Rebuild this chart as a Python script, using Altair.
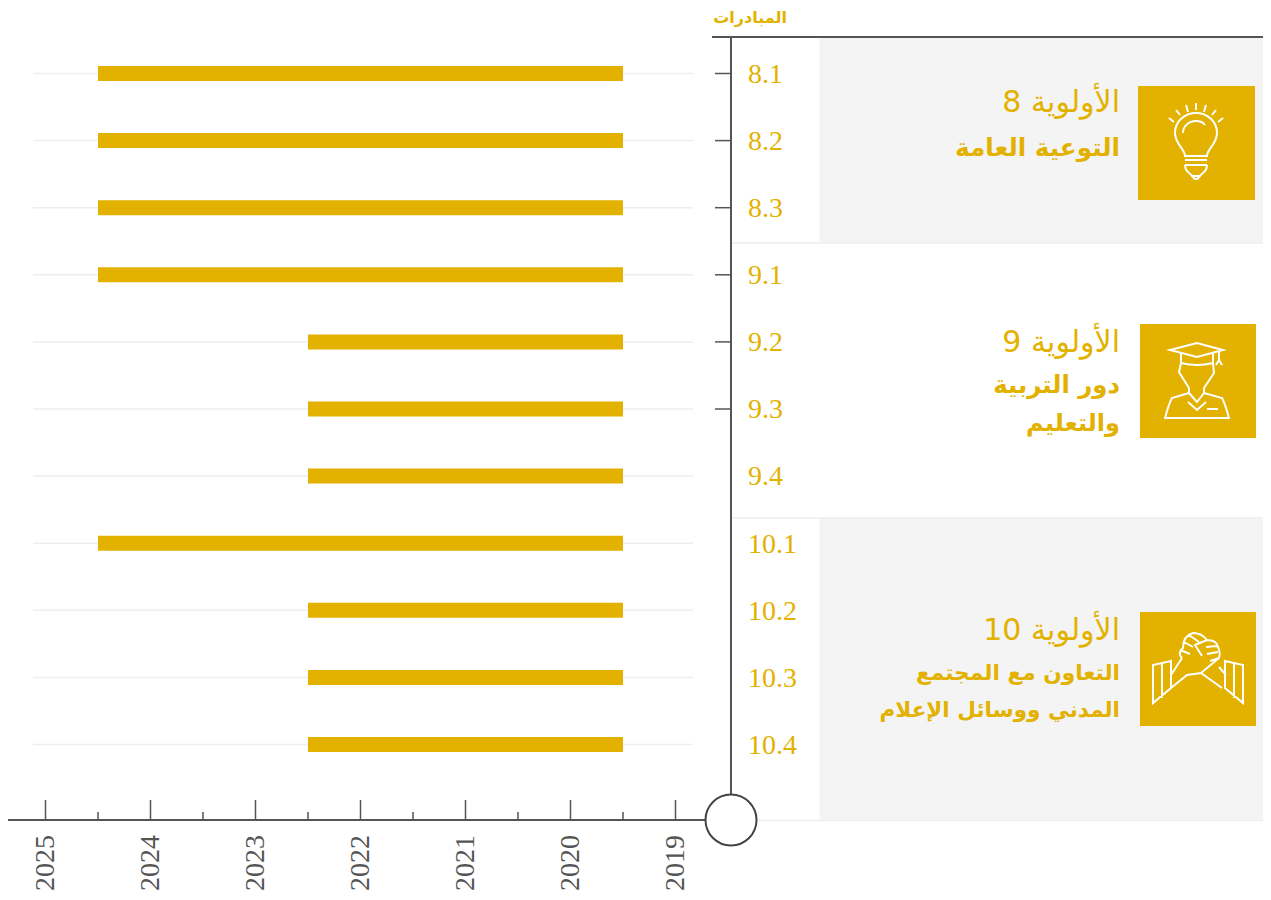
import altair as alt
import pandas as pd

INITIATIVES = ["8.1","8.2","8.3","9.1","9.2","9.3","9.4","10.1","10.2","10.3","10.4"]
BAR_START = [2019.5]*11
BAR_END = [2024.5,2024.5,2024.5,2024.5,2022.5,2022.5,2022.5,2024.5,2022.5,2022.5,2022.5]
TICKED_ROWS = [0,1,2,3,4,5]
YEARS = [2025,2024,2023,2022,2021,2020,2019]
HALF_YEARS = [2024.5,2023.5,2022.5,2021.5,2020.5,2019.5]
HEADER = "المبادرات"
TITLES = ["الأولوية 8","الأولوية 9","الأولوية 10"]
LINES = ["التوعية العامة","دور التربية","والتعليم","التعاون مع المجتمع","المدني ووسائل الإعلام"]
LINE_SIZES = [24.7, 24.4, 24, 21.7, 21.5]

GOLD = "#e3b100"; DARK = "#555555"; LIGHT = "#eeeeee"; PANEL = "#f4f4f4"
W, H = 1255, 884

# scale helpers: page pixel -> data value
def xv(px): return 2019 + (675.5 - px) / 105
def yv(py): return (py - 73.5) / 67.1
XDOM = [xv(8), xv(8 + W)]
YDOM = [yv(8 + H), yv(8)]
X = lambda f="x": alt.X(f"{f}:Q", scale=alt.Scale(domain=XDOM, nice=False, zero=False, padding=0), axis=None, title=None)
Y = lambda f="y": alt.Y(f"{f}:Q", scale=alt.Scale(domain=YDOM, nice=False, zero=False, padding=0), axis=None, title=None)

def df(**k): return alt.Data(values=pd.DataFrame(k).to_dict("records"))

rows = list(range(len(INITIATIVES)))
RIGHT = xv(8 + W)

panels = alt.Chart(df(x=[xv(819.5)]*2, x2=[RIGHT]*2, y=[yv(38), yv(518)], y2=[yv(243), yv(820)])).mark_rect(color=PANEL).encode(X(), x2="x2:Q", y=Y(), y2="y2:Q")
seps = alt.Chart(df(x=[xv(731), xv(731), xv(757)], x2=[RIGHT]*3, y=[yv(243), yv(518), yv(820.5)])).mark_rule(color=LIGHT, strokeWidth=1.5).encode(X(), x2="x2:Q", y=Y())
grid = alt.Chart(df(x=[xv(33)]*11, x2=[xv(693)]*11, y=rows)).mark_rule(color=LIGHT, strokeWidth=1.5).encode(X(), x2="x2:Q", y=Y())
bars = alt.Chart(df(s=BAR_START, e=BAR_END, y=rows)).mark_bar(color=GOLD, height=15, orient="horizontal").encode(X("s"), x2="e:Q", y=Y())

rtick = alt.Chart(df(x=[xv(715)]*6, x2=[xv(731)]*6, y=TICKED_ROWS)).mark_rule(color=DARK, strokeWidth=1.5).encode(X(), x2="x2:Q", y=Y())
major = alt.Chart(df(x=YEARS, y=[yv(800)]*7, y2=[yv(820)]*7)).mark_rule(color=DARK, strokeWidth=1.5).encode(X(), y=Y(), y2="y2:Q")
minor = alt.Chart(df(x=HALF_YEARS, y=[yv(812)]*6, y2=[yv(820)]*6)).mark_rule(color=DARK, strokeWidth=1.5).encode(X(), y=Y(), y2="y2:Q")
xaxis = alt.Chart(df(x=[xv(8)], x2=[xv(706)], y=[yv(820)])).mark_rule(color=DARK, strokeWidth=2).encode(X(), x2="x2:Q", y=Y())
top = alt.Chart(df(x=[xv(712)], x2=[RIGHT], y=[yv(37)])).mark_rule(color=DARK, strokeWidth=2).encode(X(), x2="x2:Q", y=Y())
vaxis = alt.Chart(df(x=[xv(731)], y=[yv(37)], y2=[yv(800)])).mark_rule(color=DARK, strokeWidth=2).encode(X(), y=Y(), y2="y2:Q")
knob = alt.Chart(df(x=[xv(731)], y=[yv(820)])).mark_point(shape="circle", filled=True, fill="white", stroke="#444444", strokeWidth=2, size=2601, opacity=1).encode(X(), y=Y())

year_labels = alt.Chart(df(x=YEARS, y=[yv(835)]*7, t=[str(v) for v in YEARS])).mark_text(
    angle=270, align="right", baseline="middle", font="Liberation Serif", fontSize=28, color=DARK
).encode(X(), y=Y(), text="t:N")
row_labels = alt.Chart(df(x=[xv(748)]*11, y=[r + 0.02 for r in rows], t=INITIATIVES)).mark_text(
    align="left", baseline="middle", font="Liberation Serif", fontSize=28, color=GOLD
).encode(X(), y=Y(), text="t:N")
header = alt.Chart(df(x=[xv(787)], y=[yv(18)], t=[HEADER])).mark_text(
    align="right", baseline="middle", font="DejaVu Sans", fontWeight="bold", fontSize=16, color=GOLD
).encode(X(), y=Y(), text="t:N")
titles = alt.Chart(df(x=[xv(1120)]*3, y=[yv(102.5), yv(343), yv(631)], t=TITLES)).mark_text(
    align="right", baseline="middle", font="DejaVu Sans", fontSize=30, color=GOLD
).encode(X(), y=Y(), text="t:N")
lines = alt.Chart(df(x=[xv(1120)]*5, y=[yv(149), yv(386), yv(423.5), yv(673), yv(710.5)], t=LINES, s=LINE_SIZES)).mark_text(
    align="right", baseline="middle", font="DejaVu Sans", fontWeight="bold", color=GOLD
).encode(X(), y=Y(), text="t:N", size=alt.Size("s:Q", scale=None, legend=None))

squares = alt.Chart(df(x=[xv(1138), xv(1140), xv(1140)], x2=[xv(1255), xv(1256), xv(1256)],
                       y=[yv(86), yv(324), yv(612)], y2=[yv(200), yv(438), yv(726)])).mark_rect(color=GOLD).encode(X(), x2="x2:Q", y=Y(), y2="y2:Q")

BULB = ("M-11 13C-11 6 -21 1 -21 -10C-21 -22 -11 -30 0 -30C11 -30 21 -22 21 -10C21 1 11 6 11 13Z"
        "M-13 -10C-13 -17 -7 -22 0 -22C4 -22 7 -21 9 -18"
        "M-11 17H11M-11 22H11M-11 22C-11 30 -5 30 -4 33H4C5 30 11 30 11 22M-3 33A3 3 0 0 0 3 33"
        "M-27 -25L-22 -21M-20 -33L-16 -28M-10 -38L-8 -31M0 -40L0 -33M10 -38L8 -31M20 -33L16 -28M27 -25L22 -21")
GRAD = ("M-28 -31L-1 -38L25 -31L-1 -24Z"
        "M-17 -28L-17 -18Q-1 -14 15 -18L15 -28"
        "M21 -29L21 -21M18 -16L21 -21L24 -16"
        "M-17 -18L-19 -9L-9 7L-9 12L-26 17C-29 22 -31 30 -33 37L31 37C29 30 27 22 24 17L6 12L6 7L16 -8L15 -18"
        "M-9 12L-1 21L6 12M-10 21L-1 29L8 21M9 28H20")
HANDS = ("M-45 -4L-45 34L-27 19L-27 -8ZM-36 -6L-36 29"
         "M45 -4L45 34L27 19L27 -8ZM36 -6L36 29"
         "M-27 6L-16 -11M-27 19L-11 6L3 4L24 19M28 6L21 -2M3 4L21 -11"
         "M-16 -11C-20 -15 -18 -19 -15 -21C-15 -28 -12 -34 -5 -36C2 -36 6 -33 9 -29C14 -29 19 -28 20 -22C22 -18 22 -14 21 -11"
         "M-18 -19L-8 -15M-14 -27L-5 -22M-9 -34L1 -27M9 -29L-3 -24L4 -13M8 -22L19 -23M9 -15L20 -17M12 -8L21 -11")
ICONS = [(1196, 143, BULB), (1198, 381, GRAD), (1198, 669, HANDS)]
icons = [alt.Chart(df(x=[xv(a)], y=[yv(b)])).mark_point(shape=p, size=4, filled=False, stroke="white", strokeWidth=2, opacity=1).encode(X(), y=Y())
         for a, b, p in ICONS]

chart = alt.layer(panels, seps, grid, bars, rtick, major, minor, xaxis, top, vaxis, knob,
                  year_labels, row_labels, header, titles, lines, squares, *icons).properties(
    width=W, height=H, padding=0, autosize="none", background="white"
).configure_view(stroke=None)

chart.save("out.html", embed_options={"renderer": "svg", "actions": False})
